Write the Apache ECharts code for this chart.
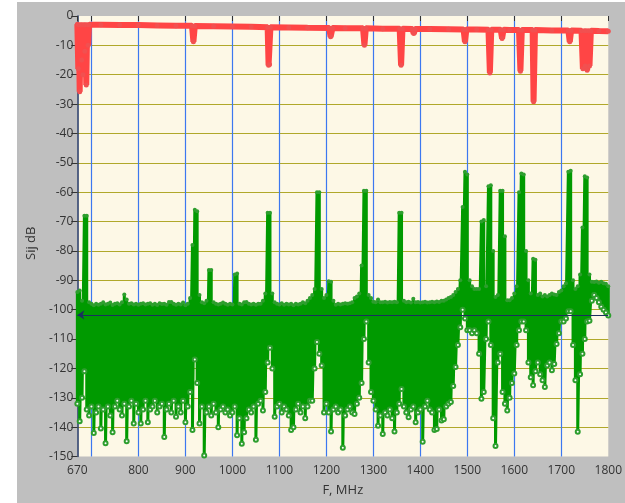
<!DOCTYPE html>
<html>
<head>
<meta charset="utf-8">
<script src="https://cdn.jsdelivr.net/npm/echarts@6/dist/echarts.min.js"></script>
<style>
  html, body { margin: 0; padding: 0; background: #ffffff; }
  #chart { position: absolute; left: 17px; top: 2px; width: 608px; height: 501px; }
</style>
</head>
<body>
<div id="chart"></div>
<script>
// x ticks / labels (700 has a tick but no label)
var xTicks = [670, 700, 800, 900, 1000, 1100, 1200, 1300, 1400, 1500, 1600, 1700, 1800];
var xLabels = [670, 800, 900, 1000, 1100, 1200, 1300, 1400, 1500, 1600, 1700, 1800];

// green trace: upper / lower envelope read every 5 MHz from 670 to 1800
var greenStart = 670, greenStep = 5;
var greenHi = [
  -94, -93.5, -97, -68, -68, -97.5, -98, -98.5, -98, -98.3,
  -98, -97.5, -98.2, -98, -97.6, -98.4, -98, -97.8, -98.2, -97.5,
  -94.8, -96.5, -98, -97.8, -98.2, -98, -98.3, -98, -97.8, -98.2,
  -98, -97.8, -98.3, -98, -98.4, -97.8, -98.1, -98, -98.3, -97.4,
  -97.4, -98, -98.3, -98, -98.2, -97.6, -98.5, -98, -96, -78,
  -66, -66.5, -95, -97.5, -97.8, -97, -86.5, -86.5, -97.5, -98,
  -98.2, -98, -97.6, -98, -98.3, -98, -98.2, -88, -87.7, -98,
  -98.2, -97.5, -97.4, -98, -98.2, -98, -98.3, -98, -98, -97,
  -94.5, -67, -67, -94.5, -97.5, -98, -98.2, -97.8, -98.3, -98,
  -98.2, -98, -98.5, -98, -98.2, -98, -97.5, -97.8, -97, -96,
  -95, -93, -60, -60, -93, -96, -95, -90.3, -90.5, -97,
  -98.3, -98, -98.2, -98, -97.8, -98, -97.8, -97.5, -96, -95.5,
  -94.5, -85, -59.5, -59.5, -95, -96, -97.3, -97.5, -96.5, -97.5,
  -97.5, -97.3, -97.6, -97.4, -97.5, -97.3, -97.5, -67, -67, -97,
  -97.5, -97.3, -97.6, -96.3, -97.5, -97.4, -97.6, -97.5, -97.3, -97.6,
  -97.5, -97.3, -97.5, -97.2, -97.4, -97, -97, -96.5, -96, -95.7,
  -95, -94, -93, -90, -65, -53, -54, -90, -92, -93,
  -93, -93, -70, -69.5, -92, -58, -57.6, -80, -95.7, -95,
  -59.5, -59.5, -75, -96.8, -96.8, -96, -94.5, -92, -60, -53.6,
  -54, -80, -90, -94.5, -82.7, -83, -95, -94.5, -95.5, -95,
  -95.5, -95, -94.5, -94.8, -95, -94, -93.5, -92, -91, -53,
  -52.7, -90, -93, -92, -88, -72, -54.6, -55, -88, -90.5,
  -90.6, -90.4, -90.8, -90.5, -91, -91.2, -92
];
var greenLo = [
  -132, -138, -130, -121, -134, -136, -133, -142, -135, -133,
  -140.5, -134, -145.5, -133, -136, -141.7, -133, -131, -134, -136,
  -132, -144.8, -133, -131, -138.8, -132, -135, -138.8, -134, -131,
  -138.3, -134, -133, -131, -135, -133, -132, -143.4, -134, -132,
  -135, -131, -136.5, -133, -135, -131, -138.3, -133, -128, -141,
  -117, -125, -138.8, -133, -149.7, -135, -133, -136, -132, -135,
  -140, -134, -133, -135, -134, -136, -135, -133, -142.8, -137,
  -145.7, -141.7, -137, -134, -135, -133, -144.3, -132, -131, -134.3,
  -128, -118, -113, -120, -136.5, -133, -132, -135, -133, -134,
  -136, -141, -140, -134, -132, -135, -133, -137, -133, -131,
  -131, -120, -111, -115, -119, -135, -132, -135, -141.5, -134,
  -133, -135, -134, -147, -136, -134, -133, -135, -135.5, -132,
  -130, -125, -110, -104, -118, -128, -131, -134, -139.5, -136,
  -142.3, -135, -136, -134, -137, -141.5, -135, -132, -127, -133,
  -135, -136.6, -134, -133, -138.3, -135, -134, -145, -133, -131,
  -134, -135, -141, -140.6, -134, -137.7, -137.3, -133, -132, -131.4,
  -126, -119.5, -112, -106, -100, -103, -107, -107, -108, -107,
  -108, -115, -130.3, -128, -110, -104, -112, -137, -146.4, -118,
  -115, -128, -132, -134.3, -130, -125, -121.7, -112, -107, -104,
  -104, -107, -118, -123, -125.7, -121, -118, -122, -124, -126.3,
  -119, -118, -120.6, -118.5, -111.7, -108, -104, -104, -103, -100.5,
  -100.5, -112, -124, -141.6, -122, -115, -110, -104, -103.8, -97,
  -95, -96, -97.5, -99, -100, -101, -102
];

// red trace: frequency / value pairs
var redF = [
  670, 672, 673, 675, 677, 679, 680, 682, 684, 686, 687, 689, 691, 693, 695,
  720, 760, 800, 840, 880, 914, 917, 920, 960, 1000, 1040,
  1075, 1077, 1079, 1081, 1120, 1160, 1206, 1209, 1213, 1240,
  1278, 1281, 1284, 1320, 1356, 1359, 1362, 1383, 1386, 1389, 1420, 1460,
  1492, 1495, 1498, 1520, 1545, 1548, 1551, 1571, 1574, 1577, 1590,
  1610, 1613, 1616, 1639, 1641, 1644, 1680, 1715, 1718, 1721,
  1743, 1746, 1749, 1751, 1753, 1755, 1758, 1760, 1763, 1780, 1800
];
var redV = [
  -2.8, -18, -3, -25.8, -3, -15, -3, -20, -3, -12, -3, -23.5, -3, -10, -3,
  -3.0, -3.1, -3.1, -3.2, -3.3, -3.3, -8.8, -3.4, -3.5, -3.6, -3.7,
  -3.8, -16.8, -16.5, -3.8, -3.9, -4.0, -4.1, -7.1, -4.1, -4.2,
  -4.2, -10, -4.2, -4.3, -4.3, -16.8, -4.3, -4.4, -6, -4.4, -4.4, -4.5,
  -4.6, -8.8, -4.6, -4.6, -4.7, -19.4, -4.7, -4.7, -7.7, -4.7, -4.8,
  -4.8, -18.8, -4.8, -4.8, -29.2, -4.8, -4.9, -4.9, -8.8, -4.9,
  -5.0, -18, -5.0, -17, -5.0, -18.5, -5.0, -17, -5.0, -5.1, -5.2
];

var refLevel = -101.8;

var greenData = [];
for (var i = 0; i < greenHi.length; i++) {
  var f = greenStart + i * greenStep;
  greenData.push({ value: [f, greenHi[i]], symbol: 'circle' });
  greenData.push({ value: [f, greenLo[i]] });
}
var redData = redF.map(function (f, i) { return [f, redV[i]]; });

var font = '"Open Sans", "Noto Sans", sans-serif';
var chart = echarts.init(document.getElementById('chart'));
chart.setOption({
  animation: false,
  backgroundColor: '#bfbfbf',
  grid: {
    left: 59.5, right: 14, top: 14, bottom: 46.5,
    show: true, backgroundColor: '#fdf8e6', borderWidth: 0
  },
  xAxis: {
    type: 'value', min: 670, max: 1800,
    name: 'F, MHz', nameLocation: 'middle', nameGap: 27,
    nameTextStyle: { color: '#333', fontSize: 13, fontFamily: font },
    axisLine: { show: false },
    axisTick: { show: true, length: 5, customValues: xTicks, lineStyle: { color: '#333' } },
    axisLabel: {
      customValues: xLabels, color: '#333', fontSize: 12, fontFamily: font, margin: 8,
      formatter: function (v) { return String(v); }
    },
    splitLine: { show: true, showMinLine: false, showMaxLine: false, lineStyle: { color: '#3c78f0', width: 1.2 } }
  },
  yAxis: {
    type: 'value', min: -150, max: 0, interval: 10,
    name: 'Sij dB', nameLocation: 'middle', nameGap: 37,
    nameTextStyle: { color: '#333', fontSize: 13, fontFamily: font, padding: [0, 14, 0, 0] },
    axisLine: { show: true, lineStyle: { color: '#1f3566', width: 1.5 } },
    axisTick: { show: true, length: 6, lineStyle: { color: '#333' } },
    axisLabel: { color: '#333', fontSize: 12, fontFamily: font, margin: 4 },
    splitLine: { show: true, showMinLine: false, showMaxLine: false, lineStyle: { color: '#b0a82a', width: 1.2 } }
  },
  series: [
    {
      name: 'green', type: 'line', data: greenData, z: 2,
      lineStyle: { color: '#009a00', width: 3 },
      symbol: 'emptyCircle', symbolSize: 4,
      itemStyle: { color: '#2e9e2e', borderWidth: 1 },
      silent: true
    },
    {
      name: 'red', type: 'line', data: redData, z: 3,
      lineStyle: { color: '#ff4545', width: 6 },
      symbol: 'circle', symbolSize: 5,
      itemStyle: { color: '#f25050' },
      silent: true,
      markLine: {
        silent: true,
        symbol: ['arrow', 'none'], symbolSize: 7,
        label: { show: false },
        lineStyle: { color: '#1b2f5e', width: 1.2, type: 'solid' },
        data: [{ yAxis: refLevel }]
      }
    }
  ]
});
</script>
</body>
</html>
